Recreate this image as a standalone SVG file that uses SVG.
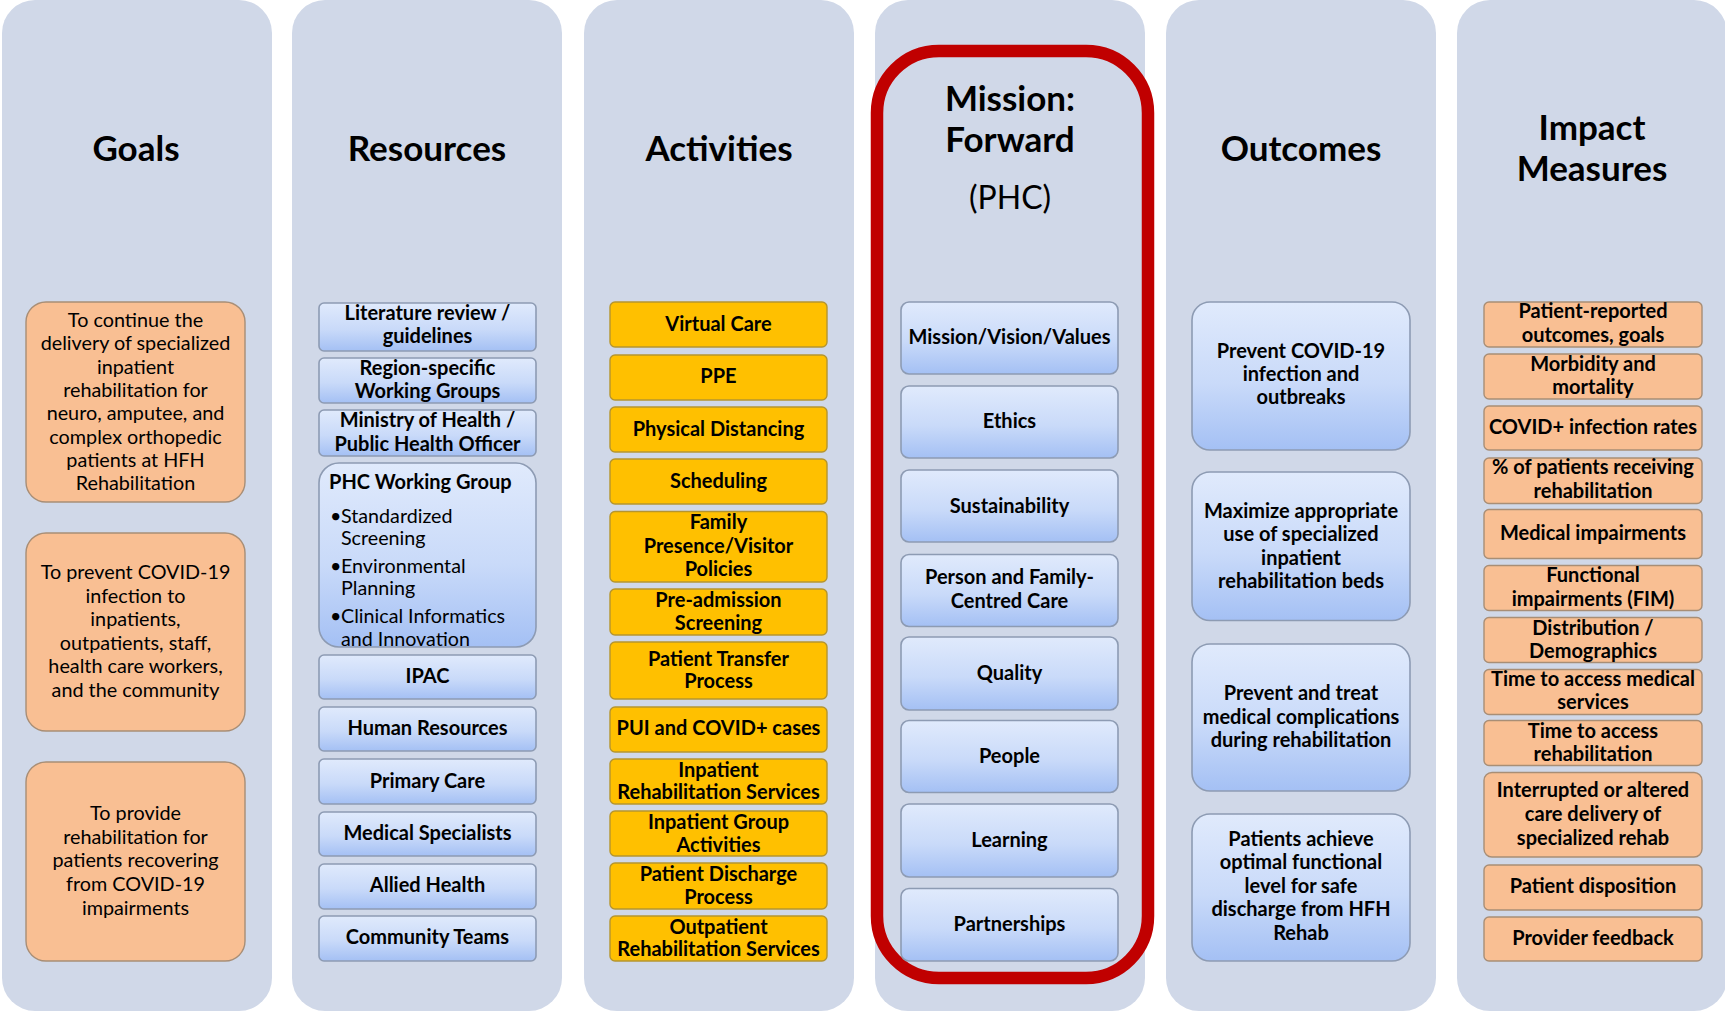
<svg xmlns="http://www.w3.org/2000/svg" width="1725" height="1013" viewBox="0 0 1725 1013">
<defs>
<linearGradient id="bg" x1="0" y1="0" x2="0" y2="1">
<stop offset="0" stop-color="#E0EAFC"/>
<stop offset="0.55" stop-color="#C9DAF9"/>
<stop offset="1" stop-color="#A4C0F4"/>
</linearGradient>
<style>
.panel{fill:#D0D8E8}
.hdr{font-family:Lato,"Liberation Sans",sans-serif;font-weight:bold;font-size:35px;text-anchor:middle;fill:#000}
.sub{font-family:Lato,"Liberation Sans",sans-serif;font-size:32px;text-anchor:middle;fill:#000}
.b{font-family:Lato,"Liberation Sans",sans-serif;font-weight:bold;font-size:20px;text-anchor:middle;fill:#000}
.r{font-family:Lato,"Liberation Sans",sans-serif;font-size:19.8px;text-anchor:middle;fill:#000}
.l{font-family:Lato,"Liberation Sans",sans-serif;font-size:19.7px;fill:#000}
.lb{font-family:Lato,"Liberation Sans",sans-serif;font-weight:bold;font-size:20px;fill:#000}
.orange{fill:#F9BF93;stroke:#A88E76;stroke-width:1.4}
.gold{fill:#FFC000;stroke:#B5952F;stroke-width:1.4}
.blue{fill:url(#bg);stroke:#8D9BB3;stroke-width:1.6}
.frame{fill:none;stroke:#C00000;stroke-width:12.5}
</style>
</defs>
<rect width="1725" height="1013" fill="#FFFFFF"/>
<g id="panels">
<rect class="panel" x="2" y="0" width="270" height="1011" rx="33"/>
<rect class="panel" x="292" y="0" width="270" height="1011" rx="33"/>
<rect class="panel" x="584" y="0" width="270" height="1011" rx="33"/>
<rect class="panel" x="875" y="0" width="270" height="1011" rx="33"/>
<rect class="panel" x="1166" y="0" width="270" height="1011" rx="33"/>
<rect class="panel" x="1457" y="0" width="270" height="1011" rx="33"/>
</g>
<g id="headers">
<text class="hdr" x="136" y="161">Goals</text>
<text class="hdr" x="427" y="161">Resources</text>
<text class="hdr" x="719" y="161">Activities</text>
<text class="hdr" x="1010" y="111">Mission:</text>
<text class="hdr" x="1010" y="152">Forward</text>
<text class="sub" x="1010" y="209">(PHC)</text>
<text class="hdr" x="1301" y="161">Outcomes</text>
<text class="hdr" x="1592" y="140">Impact</text>
<text class="hdr" x="1592" y="181">Measures</text>
</g>
<rect id="mission-frame" class="frame" x="877" y="51" width="271" height="927" rx="62"/>
<g id="connectors"/>

<!-- Goals -->
<g id="goal1"><rect class="orange" x="26" y="302" width="219" height="200" rx="20"/>
<text class="r"><tspan x="135.5" y="327">To continue the</tspan><tspan x="135.5" y="350.3">delivery of specialized</tspan><tspan x="135.5" y="373.6">inpatient</tspan><tspan x="135.5" y="396.9">rehabilitation for</tspan><tspan x="135.5" y="420.2">neuro, amputee, and</tspan><tspan x="135.5" y="443.5">complex orthopedic</tspan><tspan x="135.5" y="466.8">patients at HFH</tspan><tspan x="135.5" y="490">Rehabilitation</tspan></text></g>
<g id="goal2"><rect class="orange" x="26" y="533" width="219" height="198" rx="20"/>
<text class="r"><tspan x="135.5" y="579">To prevent COVID-19</tspan><tspan x="135.5" y="602.6">infection to</tspan><tspan x="135.5" y="626.2">inpatients,</tspan><tspan x="135.5" y="649.8">outpatients, staff,</tspan><tspan x="135.5" y="673.4">health care workers,</tspan><tspan x="135.5" y="697">and the community</tspan></text></g>
<g id="goal3"><rect class="orange" x="26" y="762" width="219" height="199" rx="20"/>
<text class="r"><tspan x="135.5" y="820">To provide</tspan><tspan x="135.5" y="843.7">rehabilitation for</tspan><tspan x="135.5" y="867.4">patients recovering</tspan><tspan x="135.5" y="891.1">from COVID-19</tspan><tspan x="135.5" y="915">impairments</tspan></text></g>

<!-- Resources -->
<g id="res-literature"><rect class="blue" x="319" y="303" width="217" height="48" rx="5"/>
<text class="b"><tspan x="427.5" y="319.5">Literature review /</tspan><tspan x="427.5" y="342.5">guidelines</tspan></text></g>
<g id="res-region"><rect class="blue" x="319" y="358" width="217" height="45" rx="5"/>
<text class="b"><tspan x="427.5" y="375">Region-specific</tspan><tspan x="427.5" y="398">Working Groups</tspan></text></g>
<g id="res-ministry"><rect class="blue" x="319" y="410" width="217" height="46" rx="5"/>
<text class="b"><tspan x="427.5" y="427">Ministry of Health /</tspan><tspan x="427.5" y="451">Public Health Officer</tspan></text></g>
<g id="res-phc"><rect class="blue" x="319" y="463" width="217" height="184" rx="20"/>
<text class="lb" x="329" y="489">PHC Working Group</text>
<text class="l"><tspan x="330" y="523">•</tspan><tspan x="341" y="523">Standardized</tspan><tspan x="341" y="545">Screening</tspan><tspan x="330" y="573">•</tspan><tspan x="341" y="573">Environmental</tspan><tspan x="341" y="595">Planning</tspan><tspan x="330" y="623">•</tspan><tspan x="341" y="623">Clinical Informatics</tspan><tspan x="341" y="646">and Innovation</tspan></text></g>
<g id="res-ipac"><rect class="blue" x="319" y="655" width="217" height="44" rx="5"/>
<text class="b" x="427.5" y="683">IPAC</text></g>
<g id="res-hr"><rect class="blue" x="319" y="707" width="217" height="44" rx="5"/>
<text class="b" x="427.5" y="735">Human Resources</text></g>
<g id="res-primary"><rect class="blue" x="319" y="759" width="217" height="45" rx="5"/>
<text class="b" x="427.5" y="788">Primary Care</text></g>
<g id="res-medical"><rect class="blue" x="319" y="812" width="217" height="44" rx="5"/>
<text class="b" x="427.5" y="840">Medical Specialists</text></g>
<g id="res-allied"><rect class="blue" x="319" y="864" width="217" height="45" rx="5"/>
<text class="b" x="427.5" y="892">Allied Health</text></g>
<g id="res-community"><rect class="blue" x="319" y="916" width="217" height="45" rx="5"/>
<text class="b" x="427.5" y="944">Community Teams</text></g>

<!-- Activities -->
<g id="act-virtual"><rect class="gold" x="610" y="302" width="217" height="45" rx="5"/>
<text class="b" x="718.5" y="331">Virtual Care</text></g>
<g id="act-ppe"><rect class="gold" x="610" y="355" width="217" height="45" rx="5"/>
<text class="b" x="718.5" y="383">PPE</text></g>
<g id="act-distancing"><rect class="gold" x="610" y="407" width="217" height="45" rx="5"/>
<text class="b" x="718.5" y="436">Physical Distancing</text></g>
<g id="act-scheduling"><rect class="gold" x="610" y="459" width="217" height="45" rx="5"/>
<text class="b" x="718.5" y="488">Scheduling</text></g>
<g id="act-family"><rect class="gold" x="610" y="511.5" width="217" height="70.5" rx="5"/>
<text class="b"><tspan x="718.5" y="529">Family</tspan><tspan x="718.5" y="552.5">Presence/Visitor</tspan><tspan x="718.5" y="576">Policies</tspan></text></g>
<g id="act-preadmission"><rect class="gold" x="610" y="589" width="217" height="46" rx="5"/>
<text class="b"><tspan x="718.5" y="606.5">Pre-admission</tspan><tspan x="718.5" y="630">Screening</tspan></text></g>
<g id="act-transfer"><rect class="gold" x="610" y="642" width="217" height="57" rx="5"/>
<text class="b"><tspan x="718.5" y="665.5">Patient Transfer</tspan><tspan x="718.5" y="688">Process</tspan></text></g>
<g id="act-pui"><rect class="gold" x="610" y="707" width="217" height="45" rx="5"/>
<text class="b" x="718.5" y="735">PUI and COVID+ cases</text></g>
<g id="act-inpatient-rehab"><rect class="gold" x="610" y="759" width="217" height="45" rx="5"/>
<text class="b"><tspan x="718.5" y="776.5">Inpatient</tspan><tspan x="718.5" y="799">Rehabilitation Services</tspan></text></g>
<g id="act-inpatient-group"><rect class="gold" x="610" y="811" width="217" height="45" rx="5"/>
<text class="b"><tspan x="718.5" y="828.5">Inpatient Group</tspan><tspan x="718.5" y="852">Activities</tspan></text></g>
<g id="act-discharge"><rect class="gold" x="610" y="863" width="217" height="46" rx="5"/>
<text class="b"><tspan x="718.5" y="881">Patient Discharge</tspan><tspan x="718.5" y="904">Process</tspan></text></g>
<g id="act-outpatient"><rect class="gold" x="610" y="916" width="217" height="45" rx="5"/>
<text class="b"><tspan x="718.5" y="933.5">Outpatient</tspan><tspan x="718.5" y="956">Rehabilitation Services</tspan></text></g>

<!-- Mission -->
<g id="mis-mvv"><rect class="blue" x="901" y="302" width="217" height="72" rx="8"/>
<text class="b" x="1009.5" y="344">Mission/Vision/Values</text></g>
<g id="mis-ethics"><rect class="blue" x="901" y="386" width="217" height="72" rx="8"/>
<text class="b" x="1009.5" y="428">Ethics</text></g>
<g id="mis-sustainability"><rect class="blue" x="901" y="470" width="217" height="72" rx="8"/>
<text class="b" x="1009.5" y="513">Sustainability</text></g>
<g id="mis-person"><rect class="blue" x="901" y="554.5" width="217" height="72" rx="8"/>
<text class="b"><tspan x="1009.5" y="584">Person and Family-</tspan><tspan x="1009.5" y="607.5">Centred Care</tspan></text></g>
<g id="mis-quality"><rect class="blue" x="901" y="637" width="217" height="73" rx="8"/>
<text class="b" x="1009.5" y="680">Quality</text></g>
<g id="mis-people"><rect class="blue" x="901" y="720.5" width="217" height="72" rx="8"/>
<text class="b" x="1009.5" y="762.5">People</text></g>
<g id="mis-learning"><rect class="blue" x="901" y="804" width="217" height="73" rx="8"/>
<text class="b" x="1009.5" y="847">Learning</text></g>
<g id="mis-partnerships"><rect class="blue" x="901" y="888.5" width="217" height="72.5" rx="8"/>
<text class="b" x="1009.5" y="930.5">Partnerships</text></g>

<!-- Outcomes -->
<g id="out-prevent"><rect class="blue" x="1192" y="302" width="218" height="148" rx="18"/>
<text class="b"><tspan x="1301" y="358">Prevent COVID-19</tspan><tspan x="1301" y="381">infection and</tspan><tspan x="1301" y="404">outbreaks</tspan></text></g>
<g id="out-maximize"><rect class="blue" x="1192" y="472" width="218" height="148.5" rx="18"/>
<text class="b"><tspan x="1301" y="518">Maximize appropriate</tspan><tspan x="1301" y="541.3">use of specialized</tspan><tspan x="1301" y="564.6">inpatient</tspan><tspan x="1301" y="588">rehabilitation beds</tspan></text></g>
<g id="out-complications"><rect class="blue" x="1192" y="644" width="218" height="147" rx="18"/>
<text class="b"><tspan x="1301" y="700">Prevent and treat</tspan><tspan x="1301" y="723.5">medical complications</tspan><tspan x="1301" y="747">during rehabilitation</tspan></text></g>
<g id="out-functional"><rect class="blue" x="1192" y="814" width="218" height="147" rx="18"/>
<text class="b"><tspan x="1301" y="846">Patients achieve</tspan><tspan x="1301" y="869.4">optimal functional</tspan><tspan x="1301" y="892.8">level for safe</tspan><tspan x="1301" y="916.2">discharge from HFH</tspan><tspan x="1301" y="939.5">Rehab</tspan></text></g>

<!-- Impact Measures -->
<g id="imp-pro"><rect class="orange" x="1484" y="302" width="218" height="45" rx="5"/>
<text class="b"><tspan x="1593" y="318">Patient-reported</tspan><tspan x="1593" y="342">outcomes, goals</tspan></text></g>
<g id="imp-morbidity"><rect class="orange" x="1484" y="354" width="218" height="45" rx="5"/>
<text class="b"><tspan x="1593" y="371">Morbidity and</tspan><tspan x="1593" y="394">mortality</tspan></text></g>
<g id="imp-covid"><rect class="orange" x="1484" y="406" width="218" height="44" rx="5"/>
<text class="b" x="1593" y="434">COVID+ infection rates</text></g>
<g id="imp-receiving"><rect class="orange" x="1484" y="458" width="218" height="45.5" rx="5"/>
<text class="b"><tspan x="1593" y="474">% of patients receiving</tspan><tspan x="1593" y="497.5">rehabilitation</tspan></text></g>
<g id="imp-medical"><rect class="orange" x="1484" y="509.5" width="218" height="49" rx="5"/>
<text class="b" x="1593" y="540">Medical impairments</text></g>
<g id="imp-functional"><rect class="orange" x="1484" y="565.5" width="218" height="45" rx="5"/>
<text class="b"><tspan x="1593" y="582">Functional</tspan><tspan x="1593" y="605.5">impairments (FIM)</tspan></text></g>
<g id="imp-distribution"><rect class="orange" x="1484" y="617.5" width="218" height="45" rx="5"/>
<text class="b"><tspan x="1593" y="635">Distribution /</tspan><tspan x="1593" y="657.5">Demographics</tspan></text></g>
<g id="imp-time-medical"><rect class="orange" x="1484" y="669.5" width="218" height="45" rx="5"/>
<text class="b"><tspan x="1593" y="686">Time to access medical</tspan><tspan x="1593" y="708.5">services</tspan></text></g>
<g id="imp-time-rehab"><rect class="orange" x="1484" y="720.5" width="218" height="45" rx="5"/>
<text class="b"><tspan x="1593" y="738">Time to access</tspan><tspan x="1593" y="761">rehabilitation</tspan></text></g>
<g id="imp-interrupted"><rect class="orange" x="1484" y="772.5" width="218" height="84.5" rx="8"/>
<text class="b"><tspan x="1593" y="797">Interrupted or altered</tspan><tspan x="1593" y="820.5">care delivery of</tspan><tspan x="1593" y="844.5">specialized rehab</tspan></text></g>
<g id="imp-disposition"><rect class="orange" x="1484" y="865" width="218" height="45" rx="5"/>
<text class="b" x="1593" y="892.5">Patient disposition</text></g>
<g id="imp-feedback"><rect class="orange" x="1484" y="917" width="218" height="44" rx="5"/>
<text class="b" x="1593" y="944.5">Provider feedback</text></g>
</svg>
